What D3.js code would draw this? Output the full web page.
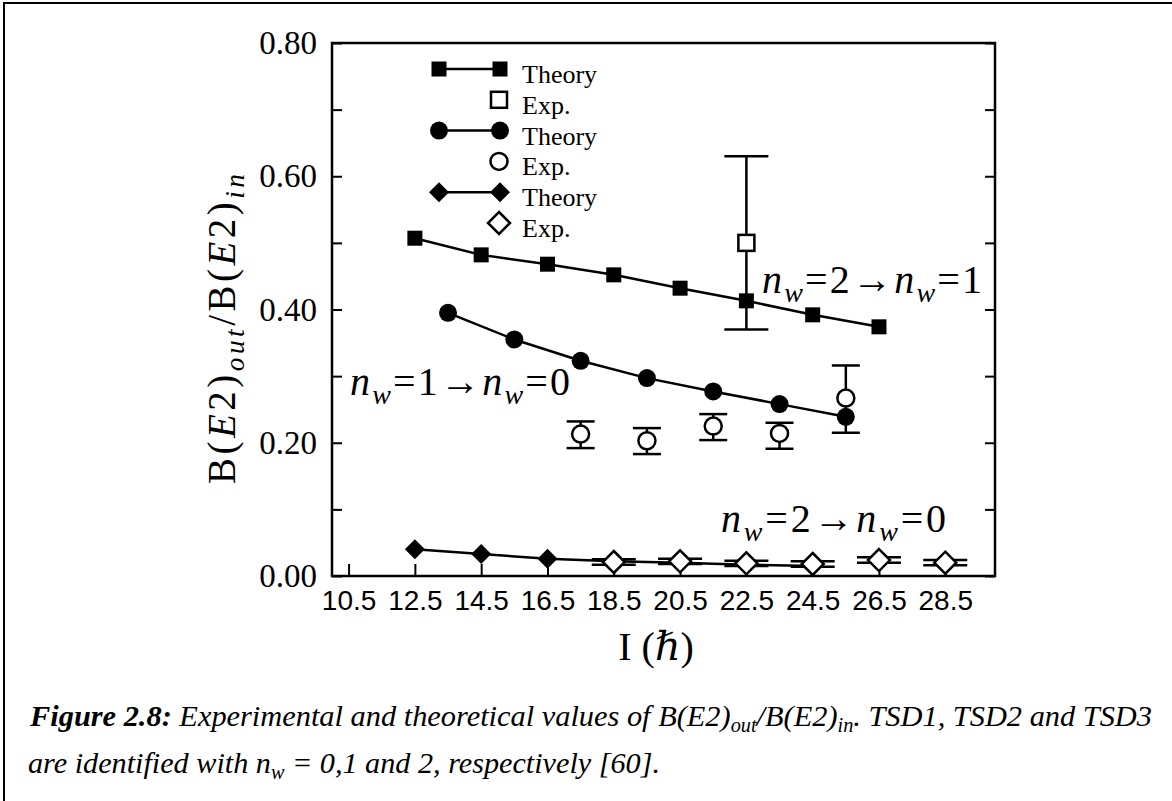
<!DOCTYPE html>
<html>
<head>
<meta charset="utf-8">
<script src="https://cdn.jsdelivr.net/npm/d3@7"></script>
<style>
  body { margin: 0; background: #fff; }
  svg { display: block; }
</style>
</head>
<body>
<div id="chart"></div>
<script>
// axis ticks
const xTicks = [10.5, 12.5, 14.5, 16.5, 18.5, 20.5, 22.5, 24.5, 26.5, 28.5];
const yTicks = [0, 0.1, 0.2, 0.3, 0.4, 0.5, 0.6, 0.7, 0.8];
const yTickLabels = ['0.00', '', '0.20', '', '0.40', '', '0.60', '', '0.80'];

// n_w = 2 -> 1 (squares)
const sqTheoryI = [12.5, 14.5, 16.5, 18.5, 20.5, 22.5, 24.5, 26.5];
const sqTheoryV = [0.507, 0.482, 0.468, 0.452, 0.432, 0.413, 0.392, 0.374];
const sqExpI = [22.5];
const sqExpV = [0.50];
const sqExpLo = [0.37];
const sqExpHi = [0.63];

// n_w = 1 -> 0 (circles)
const ciTheoryI = [13.5, 15.5, 17.5, 19.5, 21.5, 23.5, 25.5];
const ciTheoryV = [0.395, 0.355, 0.323, 0.297, 0.277, 0.258, 0.239];
const ciExpI = [17.5, 19.5, 21.5, 23.5, 25.5];
const ciExpV = [0.213, 0.203, 0.225, 0.214, 0.267];
const ciExpLo = [0.192, 0.183, 0.204, 0.191, 0.215];
const ciExpHi = [0.232, 0.222, 0.243, 0.230, 0.316];

// n_w = 2 -> 0 (diamonds)
const diTheoryI = [12.5, 14.5, 16.5, 18.5, 20.5, 22.5, 24.5];
const diTheoryV = [0.040, 0.033, 0.026, 0.022, 0.020, 0.017, 0.015];
const diExpI = [18.5, 20.5, 22.5, 24.5, 26.5, 28.5];
const diExpV = [0.021, 0.022, 0.019, 0.018, 0.024, 0.020];
const diExpLo = [0.017, 0.018, 0.015, 0.014, 0.020, 0.016];
const diExpHi = [0.025, 0.026, 0.023, 0.022, 0.028, 0.024];

// legend
const legendShapes = ['square', 'square', 'circle', 'circle', 'diamond', 'diamond'];
const legendFilled = [true, false, true, false, true, false];
const legendLabels = ['Theory', 'Exp.', 'Theory', 'Exp.', 'Theory', 'Exp.'];

const W = 1172, H = 801;
const serif = '"Liberation Serif", "DejaVu Serif", serif';
const sans = '"Liberation Sans", Arial, sans-serif';

const svg = d3.select('#chart').append('svg')
    .attr('width', W)
    .attr('height', H);

svg.append('rect').attr('width', W).attr('height', H).attr('fill', '#fff');

// page border (top and left)
svg.append('path')
    .attr('d', `M4,${H} L4,3 L${W},3`)
    .attr('fill', 'none')
    .attr('stroke', '#000')
    .attr('stroke-width', 2);

const plot = { left: 332, right: 995, top: 43, bottom: 576 };

const x = d3.scaleLinear().domain([10, 30]).range([plot.left, plot.right]);
const y = d3.scaleLinear().domain([0, 0.8]).range([plot.bottom, plot.top]);

// axes
const yAxis = svg.append('g')
    .attr('transform', `translate(${plot.left},0)`)
    .call(d3.axisLeft(y)
        .tickValues(yTicks)
        .tickSize(-10)
        .tickPadding(15)
        .tickFormat((d, i) => yTickLabels[i]));
yAxis.select('.domain').remove();
yAxis.selectAll('line').attr('stroke-width', 2);
yAxis.selectAll('text')
    .style('font-family', serif)
    .style('font-size', '33px')
    .attr('fill', '#000');

const yAxisR = svg.append('g')
    .attr('transform', `translate(${plot.right},0)`)
    .call(d3.axisRight(y).tickValues(yTicks).tickSize(-10).tickFormat(''));
yAxisR.select('.domain').remove();
yAxisR.selectAll('line').attr('stroke-width', 2);

const xAxis = svg.append('g')
    .attr('transform', `translate(0,${plot.bottom})`)
    .call(d3.axisBottom(x)
        .tickValues(xTicks)
        .tickSize(-12)
        .tickPadding(14)
        .tickFormat(d3.format('.1f')));
xAxis.select('.domain').remove();
xAxis.selectAll('line').attr('stroke-width', 2);
xAxis.selectAll('text')
    .style('font-family', sans)
    .style('font-size', '28px')
    .attr('fill', '#000');

// frame
svg.append('rect')
    .attr('x', plot.left)
    .attr('y', plot.top)
    .attr('width', plot.right - plot.left)
    .attr('height', plot.bottom - plot.top)
    .attr('fill', 'none')
    .attr('stroke', '#000')
    .attr('stroke-width', 2.5);

// markers
function marker(g, shape, filled, cx, cy) {
    const fill = filled ? '#000' : '#fff';
    const sw = filled ? 0 : 2.5;
    if (shape === 'square') {
        const s = filled ? 15 : 16;
        g.append('rect')
            .attr('x', cx - s / 2).attr('y', cy - s / 2)
            .attr('width', s).attr('height', s)
            .attr('fill', fill).attr('stroke', '#000').attr('stroke-width', sw);
    } else if (shape === 'circle') {
        g.append('circle')
            .attr('cx', cx).attr('cy', cy)
            .attr('r', filled ? 9 : 8.5)
            .attr('fill', fill).attr('stroke', '#000').attr('stroke-width', sw);
    } else {
        const h = filled ? 10 : 11;
        g.append('path')
            .attr('d', `M${cx},${cy - h} L${cx + h},${cy} L${cx},${cy + h} L${cx - h},${cy} Z`)
            .attr('fill', fill).attr('stroke', '#000').attr('stroke-width', sw)
            .attr('stroke-linejoin', 'miter');
    }
}

const line = d3.line().x(d => x(d[0])).y(d => y(d[1]));

function theory(shape, xs, vs) {
    const g = svg.append('g');
    g.append('path')
        .datum(xs.map((d, i) => [d, vs[i]]))
        .attr('d', line)
        .attr('fill', 'none')
        .attr('stroke', '#000')
        .attr('stroke-width', 2.5);
    xs.forEach((d, i) => marker(g, shape, true, x(d), y(vs[i])));
}

function experiment(shape, xs, vs, lo, hi, capW) {
    const g = svg.append('g');
    xs.forEach((d, i) => {
        const cx = x(d);
        g.append('line')
            .attr('x1', cx).attr('x2', cx)
            .attr('y1', y(lo[i])).attr('y2', y(hi[i]))
            .attr('stroke', '#000').attr('stroke-width', 2.5);
        [lo[i], hi[i]].forEach(v => {
            g.append('line')
                .attr('x1', cx - capW / 2).attr('x2', cx + capW / 2)
                .attr('y1', y(v)).attr('y2', y(v))
                .attr('stroke', '#000').attr('stroke-width', 2.5);
        });
    });
    xs.forEach((d, i) => marker(g, shape, false, x(d), y(vs[i])));
}

theory('square', sqTheoryI, sqTheoryV);
theory('circle', ciTheoryI, ciTheoryV);
theory('diamond', diTheoryI, diTheoryV);
experiment('square', sqExpI, sqExpV, sqExpLo, sqExpHi, 44);
experiment('circle', ciExpI, ciExpV, ciExpLo, ciExpHi, 28);
experiment('diamond', diExpI, diExpV, diExpLo, diExpHi, 44);

// legend
const legend = svg.append('g');
legendLabels.forEach((label, i) => {
    const cy = 69 + i * 30.8;
    if (legendFilled[i]) {
        legend.append('line')
            .attr('x1', 439).attr('x2', 500)
            .attr('y1', cy).attr('y2', cy)
            .attr('stroke', '#000').attr('stroke-width', 2.5);
        marker(legend, legendShapes[i], true, 439, cy);
        marker(legend, legendShapes[i], true, 500, cy);
    } else {
        marker(legend, legendShapes[i], false, 499, cy);
    }
    legend.append('text')
        .attr('x', 522)
        .attr('y', cy + 14)
        .style('font-family', serif)
        .style('font-size', '26px')
        .text(label);
});

// math-like text built from tspans
function mathText(g, px, py, parts, size, width, anchor) {
    const t = g.append('text')
        .attr('x', px).attr('y', py)
        .style('font-family', serif)
        .style('font-size', size + 'px')
        .attr('text-anchor', anchor || 'start');
    let shift = 0;
    parts.forEach(p => {
        const s = t.append('tspan').text(p.t);
        const target = p.sub ? size * 0.22 : 0;
        if (target !== shift) s.attr('dy', target - shift);
        shift = target;
        if (p.sub) s.style('font-size', (size * 0.7) + 'px');
        if (p.it) s.style('font-style', 'italic');
    });
    if (width) t.attr('textLength', width).attr('lengthAdjust', 'spacing');
    return t;
}

function nwParts(a, b) {
    return [
        { t: 'n', it: true }, { t: 'w', it: true, sub: true },
        { t: '=' + a + '\u2192' },
        { t: 'n', it: true }, { t: 'w', it: true, sub: true },
        { t: '=' + b }
    ];
}

mathText(svg, 762, 293, nwParts(2, 1), 40, 220);
mathText(svg, 350, 395, nwParts(1, 0), 40, 220);
mathText(svg, 721, 532, nwParts(2, 0), 40, 225);

// axis titles
const yTitle = svg.append('g').attr('transform', 'translate(235,329) rotate(-90)');
mathText(yTitle, 0, 0, [
    { t: 'B(' }, { t: 'E', it: true }, { t: '2)' }, { t: 'out', it: true, sub: true },
    { t: '/B(' }, { t: 'E', it: true }, { t: '2)' }, { t: 'in', it: true, sub: true }
], 39, 310, 'middle');

mathText(svg, 656, 660, [{ t: 'I  (' }, { t: '\u210F', it: true }, { t: ')' }], 40, null, 'middle');

// caption
const cap1 = svg.append('text')
    .attr('x', 30).attr('y', 726)
    .style('font-family', serif)
    .style('font-size', '30px')
    .style('font-style', 'italic');
cap1.append('tspan').style('font-weight', 'bold').text('Figure 2.8:');
cap1.append('tspan').text(' Experimental and theoretical values of B(E2)');
cap1.append('tspan').attr('dy', 6).style('font-size', '20px').text('out');
cap1.append('tspan').attr('dy', -6).text('/B(E2)');
cap1.append('tspan').attr('dy', 6).style('font-size', '20px').text('in');
cap1.append('tspan').attr('dy', -6).text('. TSD1, TSD2 and TSD3');
cap1.attr('textLength', 1122).attr('lengthAdjust', 'spacingAndGlyphs');

const cap2 = svg.append('text')
    .attr('x', 28).attr('y', 773)
    .style('font-family', serif)
    .style('font-size', '30px')
    .style('font-style', 'italic');
cap2.append('tspan').text('are identified with n');
cap2.append('tspan').attr('dy', 6).style('font-size', '20px').text('w');
cap2.append('tspan').attr('dy', -6).text(' = 0,1 and 2, respectively [60].');
cap2.attr('textLength', 632).attr('lengthAdjust', 'spacingAndGlyphs');
</script>
</body>
</html>
